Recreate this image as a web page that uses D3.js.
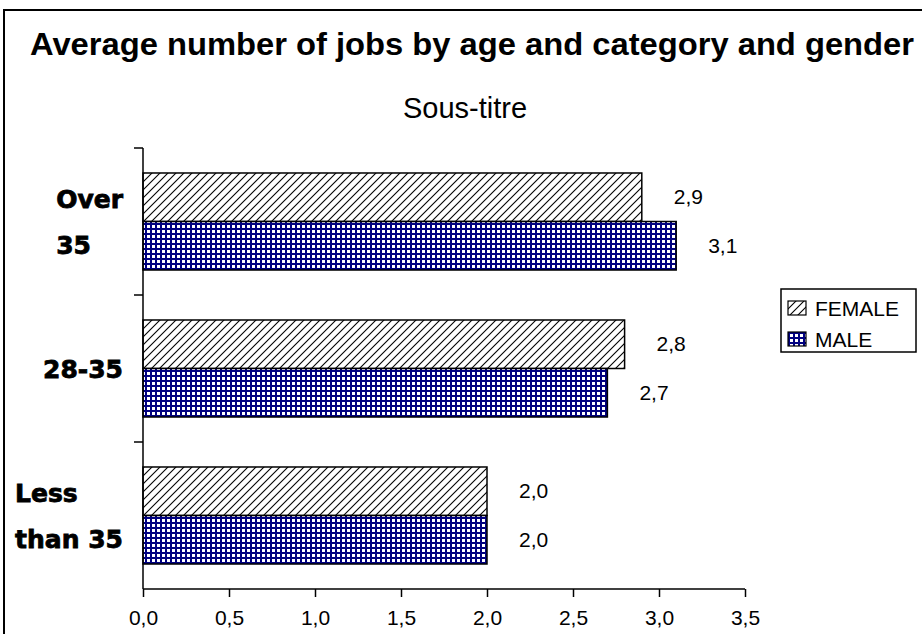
<!DOCTYPE html>
<html>
<head>
<meta charset="utf-8">
<script src="https://cdn.jsdelivr.net/npm/d3@7"></script>
<style>
  body { margin: 0; background: #fff; }
  svg { display: block; }
</style>
</head>
<body>
<svg id="chart" width="922" height="634"></svg>
<script>
// Chart data
var categories = ["Over 35", "28-35", "Less than 35"];
var labelLines = [["Over", "35"], ["28-35"], ["Less", "than 35"]];
var series = ["FEMALE", "MALE"];
var femaleValues = [2.9, 2.8, 2.0];
var maleValues = [3.1, 2.7, 2.0];
var xTicks = [0, 0.5, 1, 1.5, 2, 2.5, 3, 3.5];

var titleText = "Average number of jobs by age and category and gender";
var subtitleText = "Sous-titre";

var svg = d3.select("#chart"),
    width = +svg.attr("width"),
    height = +svg.attr("height");

var plot = { left: 143, right: 745, top: 148, bottom: 589 };
var fmt = function (v) { return d3.format(".1f")(v).replace(".", ","); };
var arial = "Liberation Sans, Arial, sans-serif";

// patterns
var defs = svg.append("defs");
var hatch = defs.append("pattern")
    .attr("id", "hatch")
    .attr("patternUnits", "userSpaceOnUse")
    .attr("width", 8).attr("height", 8);
hatch.append("rect").attr("width", 8).attr("height", 8).attr("fill", "#fff");
hatch.append("path")
    .attr("d", "M0,8 L8,0 M-2,2 L2,-2 M6,10 L10,6")
    .attr("stroke", "#000").attr("stroke-width", 1.1);

var grid = defs.append("pattern")
    .attr("id", "grid")
    .attr("patternUnits", "userSpaceOnUse")
    .attr("width", 5).attr("height", 5);
grid.append("rect").attr("width", 5).attr("height", 5).attr("fill", "#000080");
grid.append("rect").attr("x", 2).attr("y", 2).attr("width", 3).attr("height", 3).attr("fill", "#fff");

var fills = { FEMALE: "url(#hatch)", MALE: "url(#grid)" };

// outer frame
svg.append("rect")
    .attr("x", 4).attr("y", 10)
    .attr("width", width + 10).attr("height", height)
    .attr("fill", "none").attr("stroke", "#000").attr("stroke-width", 2);

// title
svg.append("text")
    .attr("x", 472).attr("y", 55)
    .attr("text-anchor", "middle")
    .attr("font-family", arial)
    .attr("font-weight", "bold")
    .attr("font-size", "32px")
    .attr("textLength", 884)
    .attr("lengthAdjust", "spacingAndGlyphs")
    .text(titleText);

svg.append("text")
    .attr("x", 465).attr("y", 118)
    .attr("text-anchor", "middle")
    .attr("font-family", arial)
    .attr("font-size", "29px")
    .text(subtitleText);

// scales
var x = d3.scaleLinear().domain([0, 3.5]).range([plot.left, plot.right]);
var y = d3.scaleBand().domain(categories).range([plot.top, plot.bottom])
    .paddingInner(0.34).paddingOuter(0.17);
var ySub = d3.scaleBand().domain(series).range([0, y.bandwidth()]);

var rows = categories.map(function (c, i) {
    return { cat: c, values: [
        { key: "FEMALE", value: femaleValues[i] },
        { key: "MALE", value: maleValues[i] }
    ] };
});

var groups = svg.selectAll(".cat")
    .data(rows)
    .enter()
    .append("g")
    .attr("class", "cat")
    .attr("transform", function (d) { return "translate(0," + y(d.cat) + ")"; });

groups.selectAll("rect")
    .data(function (d) { return d.values; })
    .enter()
    .append("rect")
    .attr("x", x(0))
    .attr("y", function (d) { return ySub(d.key); })
    .attr("width", function (d) { return x(d.value) - x(0); })
    .attr("height", ySub.bandwidth())
    .attr("fill", function (d) { return fills[d.key]; })
    .attr("stroke", "#000")
    .attr("stroke-width", 1.5);

groups.selectAll(".val")
    .data(function (d) { return d.values; })
    .enter()
    .append("text")
    .attr("class", "val")
    .attr("x", function (d) { return x(d.value) + 32; })
    .attr("y", function (d) { return ySub(d.key) + ySub.bandwidth() / 2 + 7; })
    .attr("font-family", arial)
    .attr("font-size", "21px")
    .text(function (d) { return fmt(d.value); });

// x axis
var xAxis = svg.append("g")
    .attr("transform", "translate(0," + plot.bottom + ")")
    .call(d3.axisBottom(x).tickValues(xTicks).tickSize(8).tickPadding(13).tickFormat(fmt));
xAxis.select(".domain").attr("stroke", "#000").attr("stroke-width", 1.5)
    .attr("d", "M" + plot.left + ",0H" + plot.right);
xAxis.selectAll(".tick line").attr("stroke", "#000").attr("stroke-width", 1.5);
xAxis.selectAll(".tick text")
    .attr("font-family", arial)
    .attr("font-size", "21px")
    .attr("fill", "#000");

// y axis line and ticks at category boundaries
svg.append("line")
    .attr("x1", plot.left).attr("x2", plot.left)
    .attr("y1", plot.top).attr("y2", plot.bottom)
    .attr("stroke", "#000").attr("stroke-width", 1.5);
var yBounds = categories.map(function (c) { return y(c) - y.step() * y.paddingInner() / 2; });
svg.selectAll(".ytick")
    .data(yBounds)
    .enter()
    .append("line")
    .attr("class", "ytick")
    .attr("x1", plot.left - 9).attr("x2", plot.left)
    .attr("y1", function (d) { return d; }).attr("y2", function (d) { return d; })
    .attr("stroke", "#000").attr("stroke-width", 1.5);

// category labels (heavy, wrapped, block right-aligned)
var labelSize = 25, lineH = 46, labelRight = 123;
categories.forEach(function (c, ci) {
    var parts = labelLines[ci];
    var g = svg.append("g");
    var texts = g.selectAll("text")
        .data(parts)
        .enter()
        .append("text")
        .attr("font-family", "DejaVu Sans, sans-serif")
        .attr("font-weight", "bold")
        .attr("font-size", labelSize + "px")
        .attr("stroke", "#000")
        .attr("stroke-width", 0.8)
        .text(function (d) { return d; });
    var maxW = 0;
    texts.each(function () { maxW = Math.max(maxW, this.getComputedTextLength()); });
    var cy = y(c) + y.bandwidth() / 2;
    texts
        .attr("x", labelRight - maxW)
        .attr("y", function (d, i) { return cy + (i - (parts.length - 1) / 2) * lineH + 9; });
});

// legend
var legend = svg.append("g").attr("transform", "translate(781,289)");
legend.append("rect")
    .attr("width", 135).attr("height", 63)
    .attr("fill", "#fff").attr("stroke", "#000").attr("stroke-width", 1.5);
var li = legend.selectAll(".li")
    .data(series)
    .enter()
    .append("g")
    .attr("class", "li")
    .attr("transform", function (d, i) { return "translate(7," + (12 + i * 31) + ")"; });
li.append("rect")
    .attr("width", 18).attr("height", 14)
    .attr("fill", function (d) { return fills[d]; })
    .attr("stroke", "#000").attr("stroke-width", 1.2);
li.append("text")
    .attr("x", 27).attr("y", 15)
    .attr("font-family", arial)
    .attr("font-size", "21px")
    .text(function (d) { return d; });
</script>
</body>
</html>
